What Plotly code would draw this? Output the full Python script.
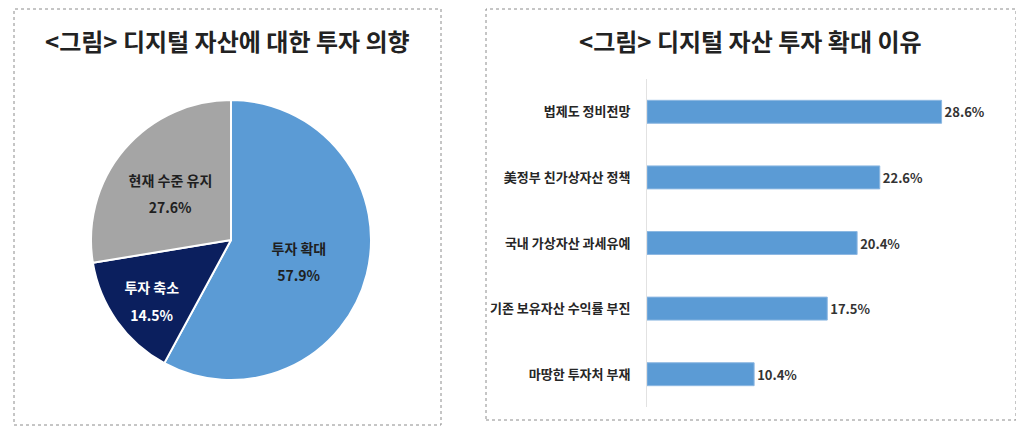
import plotly.graph_objects as go

# left: investment intention (pie)
pie_labels = ["투자 확대", "투자 축소", "현재 수준 유지"]
pie_values = [57.9, 14.5, 27.6]
pie_colors = ["#5B9BD5", "#0B1F5E", "#A5A5A5"]
pie_text_colors = ["#1F1F1F", "#FFFFFF", "#1F1F1F"]

# right: reasons for expanding investment (bars)
reasons = ["법제도 정비전망", "美정부 친가상자산 정책", "국내 가상자산 과세유예",
           "기존 보유자산 수익률 부진", "마땅한 투자처 부재"]
shares = [28.6, 22.6, 20.4, 17.5, 10.4]

KR = "Noto Sans CJK KR"

# the page body has an 8px margin, so the figure is drawn at (8, 8)
W, H, OFF = 1016, 420, 8


def px(x):  # screen pixel -> paper x
    return (x - OFF) / W


def py(y):  # screen pixel (from top) -> paper y
    return 1 - (y - OFF) / H


pie_dom = dict(x=[px(91), px(371)], y=[py(380), py(100)])

fig = go.Figure()

# slices + category name (upper line)
fig.add_trace(go.Pie(
    labels=pie_labels, values=pie_values,
    sort=False, direction="clockwise", rotation=0,
    marker=dict(colors=pie_colors, line=dict(color="white", width=2)),
    texttemplate="<b>%{label}</b><br>&nbsp;",
    textposition="inside", insidetextorientation="horizontal",
    textfont=dict(family=KR, size=14, color=pie_text_colors),
    domain=pie_dom, showlegend=False, hoverinfo="label+value",
))
# same slices, transparent, carrying the percentage (lower line)
fig.add_trace(go.Pie(
    labels=pie_labels, values=pie_values,
    sort=False, direction="clockwise", rotation=0,
    marker=dict(colors=["rgba(0,0,0,0)"] * 3, line=dict(width=0)),
    texttemplate="&nbsp;<br>&nbsp;<br><b>%{value}%</b>",
    textposition="inside", insidetextorientation="horizontal",
    textfont=dict(family=KR, size=14, color=pie_text_colors),
    domain=pie_dom, showlegend=False, hoverinfo="skip",
))

fig.add_trace(go.Bar(
    x=shares, y=reasons, orientation="h",
    marker=dict(color="#5B9BD5", line=dict(color="#8DB8E2", width=1)),
    width=0.35,
    text=[f"{v}%" for v in shares], textposition="outside",
    textfont=dict(family="Liberation Sans Narrow, " + KR, size=13, color="#333333", weight="bold"),
    cliponaxis=False, showlegend=False,
))

fig.update_xaxes(domain=[px(647), px(647 + 32 * 10.3)], range=[0, 32], visible=False)
fig.update_yaxes(domain=[py(407), py(79)], autorange="reversed",
                 showline=True, linecolor="#E2E2E2", linewidth=1,
                 showgrid=False, ticks="", ticklabelstandoff=13,
                 tickfont=dict(family=KR, size=13, color="#262626", weight="bold"))

# titles
fig.add_annotation(text="<그림> 디지털 자산에 대한 투자 의향", x=px(227), y=py(41),
                   xref="paper", yref="paper", showarrow=False, xanchor="center", yanchor="middle",
                   font=dict(family=KR, size=24, color="#222222", weight="bold"))
fig.add_annotation(text="<그림> 디지털 자산 투자 확대 이유", x=px(750), y=py(41),
                   xref="paper", yref="paper", showarrow=False, xanchor="center", yanchor="middle",
                   font=dict(family=KR, size=24, color="#222222", weight="bold"))

# dotted panel frames
for x0, x1, y0, y1 in [(14, 441, 9, 425), (486, 1016, 9, 420)]:
    fig.add_shape(type="rect", xref="paper", yref="paper",
                  x0=px(x0), x1=px(x1), y0=py(y1), y1=py(y0),
                  line=dict(color="#8C8C8C", width=1, dash="dot"))

fig.update_layout(width=W, height=H, margin=dict(l=0, r=0, t=0, b=0),
                  paper_bgcolor="white", plot_bgcolor="white",
                  font=dict(family=KR))

fig.write_html("out.html")
